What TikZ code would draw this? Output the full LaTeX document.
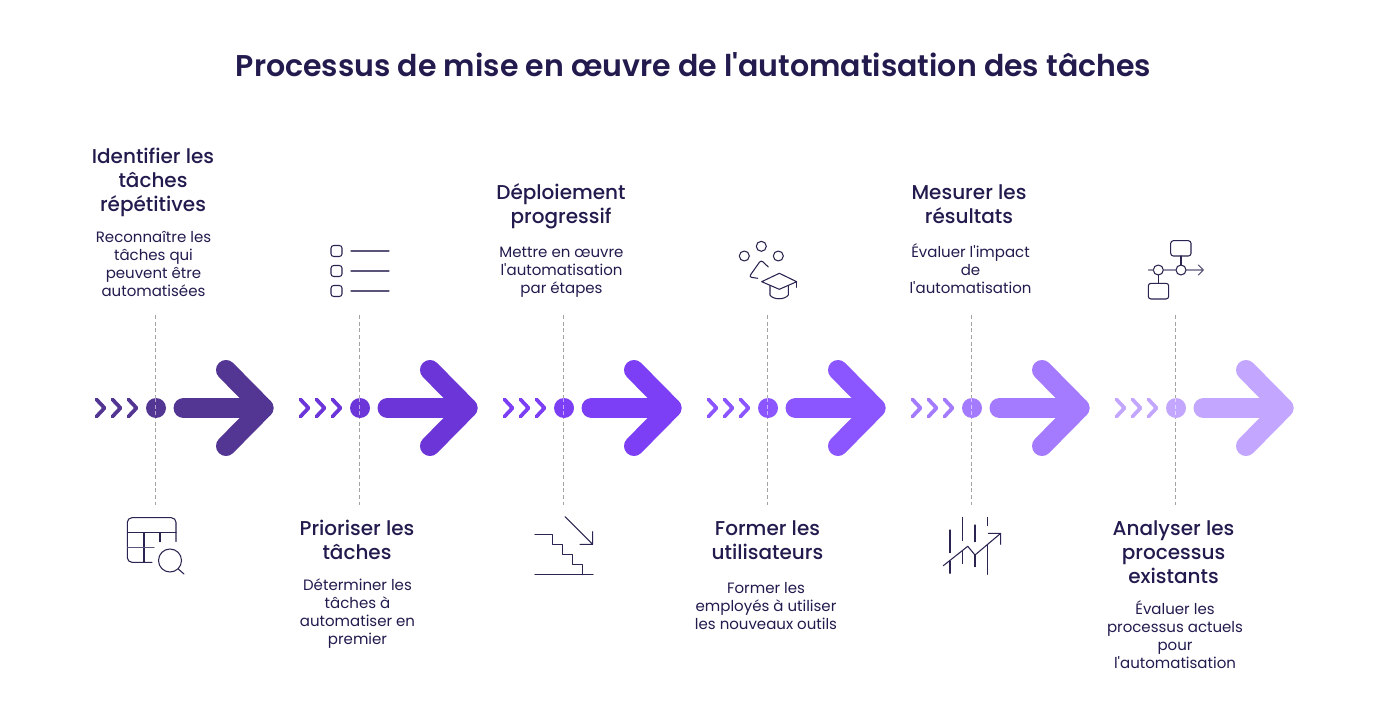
\documentclass[tikz,border=0pt]{standalone}
\usepackage{fontspec}
\setmainfont{Poppins}
\newfontfamily\titlef{Poppins SemiBold}
\newfontfamily\headf{Poppins Medium}
\newfontfamily\bodyf{Poppins}
\definecolor{ink}{HTML}{231A4E}
\definecolor{icon}{HTML}{2B2350}
\definecolor{iconsoft}{HTML}{5A5478}
\definecolor{guide}{HTML}{A3A3A3}
\definecolor{cA}{HTML}{533594}
\definecolor{cB}{HTML}{6C35D8}
\definecolor{cC}{HTML}{7C3FF5}
\definecolor{cD}{HTML}{8B55FF}
\definecolor{cE}{HTML}{A47AFF}
\definecolor{cF}{HTML}{C3A6FF}
\tikzset{
  titletext/.style={font=\titlef\fontsize{22.5}{27}\selectfont,text=ink,inner sep=0pt},
  headtext/.style={font=\headf\fontsize{15}{18}\selectfont,text=ink,align=center,inner sep=0pt},
  bodytext/.style={font=\bodyf\fontsize{11.25}{13.5}\selectfont,text=ink,align=center,inner sep=0pt},
  guideline/.style={draw=guide,line width=0.6pt,dash pattern=on 3pt off 2pt},
  iconline/.style={draw=icon,line width=0.8pt,line cap=round,line join=round},
  softline/.style={draw=iconsoft,line width=0.8pt,line cap=round,line join=round},
  chevron/.style={line width=2.8pt,line cap=round,line join=round},
  bigarrow/.style={line width=15pt,line cap=round,line join=round},
  dotnode/.style={circle,minimum size=15pt,inner sep=0pt},
}
\begin{document}
\begin{tikzpicture}[x=0.75pt,y=-0.75pt]
\useasboundingbox (0,0) rectangle (1388,720);
\fill[white] (0,0) rectangle (1388,720);
\node[titletext] (title) at (693.5,65) {Processus de mise en œuvre de l'automatisation des tâches};

% guides, chevrons, dots and arrows
\foreach \n/\col [count=\i from 0] in {a/cA,b/cB,c/cC,d/cD,e/cE,f/cF} {
  \pgfmathsetmacro{\ox}{204*\i}
  \begin{scope}[xshift=\ox*0.75pt]
    \coordinate (gt\n) at (155.5,315);
    \coordinate (gb\n) at (155.5,505);
    \draw[guideline] (gt\n) -- (gb\n);
    \foreach \d in {0,16,32}
      \draw[\col,chevron] (96.5+\d,399.5) -- (104.5+\d,408) -- (96.5+\d,416.5);
    \node[dotnode,fill=\col] (dot\n) at (156,408) {};
    \draw[guideline,draw=white!55!\col] (155.5,398) -- (155.5,418);
    \coordinate (s\n) at (183.5,408);
    \coordinate (t\n) at (263.5,408);
    \draw[\col,bigarrow] (s\n) -- (t\n);
    \draw[\col,bigarrow] (226,370) -- (t\n) -- (226,446);
  \end{scope}
}

% texts
\node[headtext] (h1) at (153,182) {Identifier les\\tâches\\répétitives};
\node[bodytext] (b1) at (153.5,264) {Reconnaître les\\tâches qui\\peuvent être\\automatisées};
\node[headtext] (h2) at (357,540) {Prioriser les\\tâches};
\node[bodytext] (b2) at (357.5,613.5) {Déterminer les\\tâches à\\automatiser en\\premier};
\node[headtext] (h3) at (561,206) {Déploiement\\progressif};
\node[bodytext] (b3) at (561.5,272) {Mettre en œuvre\\l'automatisation\\par étapes};
\node[headtext] (h4) at (767.5,540) {Former les\\utilisateurs};
\node[bodytext] (b4) at (766,606) {Former les\\employés à utiliser\\les nouveaux outils};
\node[headtext] (h5) at (969,204) {Mesurer les\\résultats};
\node[bodytext] (b5) at (970.5,269) {Évaluer l'impact\\de\\l'automatisation};
\node[headtext] (h6) at (1173.5,552) {Analyser les\\processus\\existants};
\node[bodytext] (b6) at (1175,635) {Évaluer les\\processus actuels\\pour\\l'automatisation};

% icon 1: table and magnifier
\draw[iconline,rounded corners=3.5pt] (152,562.3) -- (127.3,562.3) -- (127.3,517.7) -- (176,517.7) -- (176,541.7);
\draw[iconline] (127.3,532.7) -- (176,532.7) (144,532.7) -- (144,562.3) (160,532.7) -- (160,541.7);
\draw[softline] (127.3,547.7) -- (154,547.7);
\draw[iconline] (170,560.5) circle (11.5) (178.3,569) -- (184,574);

% icon 2: check list
\foreach \y in {251,271,291} {
  \draw[iconline,rounded corners=2pt] (331,\y-5.5) rectangle (342,\y+5.5);
  \draw[softline] (351,\y) -- (389,\y);
}

% icon 3: stairs
\draw[iconline] (535,534.3) -- (552.7,534.3) -- (552.7,544.3) -- (562.3,544.3) -- (562.3,554.3) -- (572.3,554.3) -- (572.3,564.3) -- (582.3,564.3) -- (582.3,574.7);
\draw[iconline] (535,574.7) -- (593,574.7);
\draw[iconline] (565,516.7) -- (592.7,544.3) (580,544.3) -- (592.7,544.3) -- (592.7,531.7);

% icon 4: circles and cap
\draw[iconline] (744.3,256) circle (5) (761.3,246.3) circle (5) (778.3,256) circle (5);
\draw[iconline,rounded corners=2pt] (768.3,267) -- (761,260) -- (749,277) -- (757.7,278.3);
\draw[iconline] (761.7,281.7) -- (779.3,273.3) -- (796.7,281.7) -- (779.3,289.3) -- cycle;
\draw[iconline] (770,285.7) -- (770,295) .. controls (773,300) and (785,300) .. (788.3,295) -- (788.3,285.7);
\draw[iconline] (796.7,281.7) -- (796.7,287.3);

% icon 5: chart
\draw[iconline] (943.3,565.7) -- (967.7,546.3) -- (975,555) -- (1000.7,533.3) (988.3,533.3) -- (1000.7,533.3) -- (1000.7,544.3);
\draw[iconline] (950,530) -- (950,552.7) (950,561) -- (950,573.3);
\draw[iconline] (962.3,517.3) -- (962.3,540.7) (962.3,551) -- (962.3,563.7);
\draw[iconline] (975,525) -- (975,541.7) (975,555) -- (975,566.7);
\draw[iconline] (987.5,517.3) -- (987.5,525.7) (987.5,544.3) -- (987.5,574.3);

% icon 6: flow
\draw[iconline,rounded corners=2pt] (1170.7,240.7) rectangle (1191,256);
\draw[iconline,rounded corners=2pt] (1148.3,283.3) rectangle (1168.7,299);
\draw[iconline] (1158.3,270) circle (5) (1181,270) circle (5);
\draw[softline] (1148.3,270) -- (1153.3,270) (1163.3,270) -- (1176,270) (1186,270) -- (1203.3,270) (1198.3,265) -- (1203.3,270) -- (1198.3,275);
\draw[iconline] (1181,256) -- (1181,265) (1158.3,275) -- (1158.3,283.3);
\end{tikzpicture}
\end{document}
